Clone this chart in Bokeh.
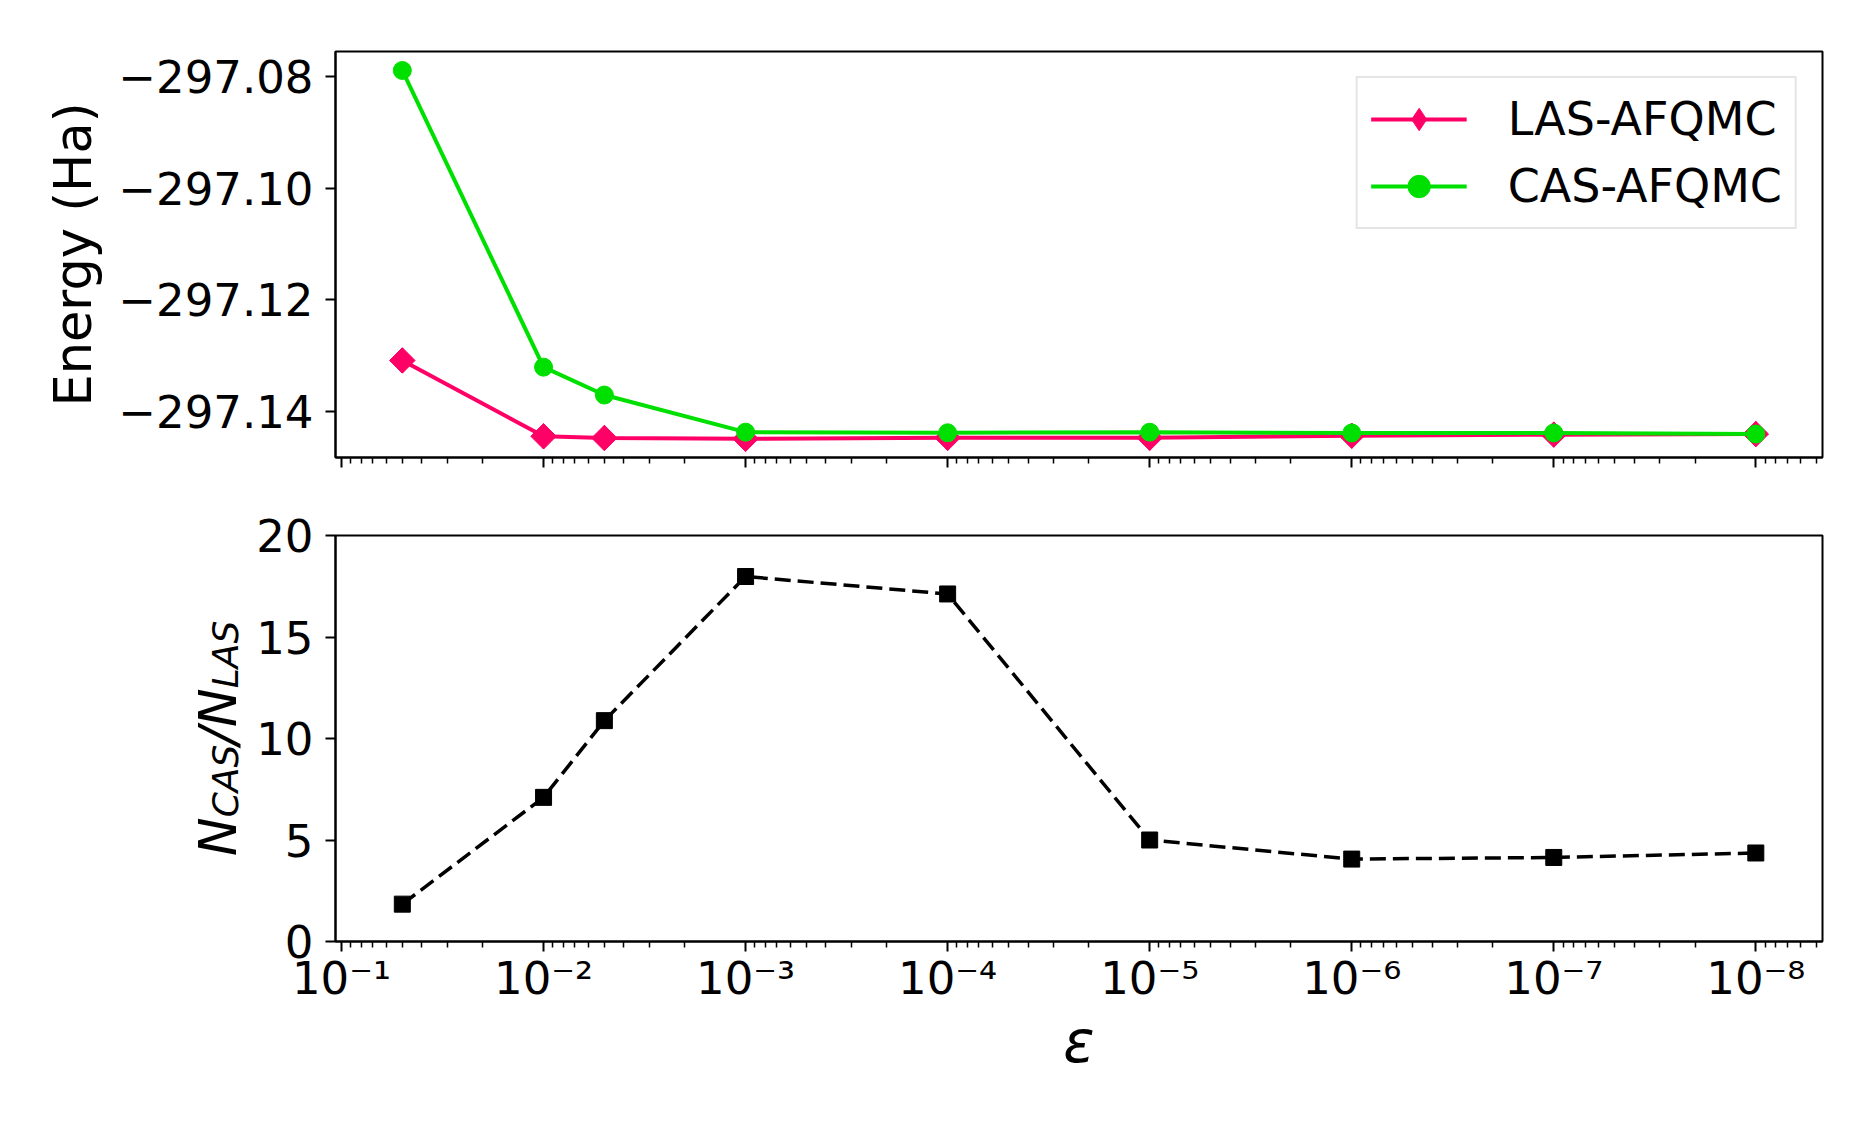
from math import pi
from bokeh.plotting import figure
from bokeh.layouts import column, row
from bokeh.models import (Range1d, FixedTicker, CustomJSTickFormatter, Legend,
                          LegendItem)
from bokeh.core.properties import value
from bokeh.embed import file_html
from bokeh.resources import INLINE

# ---------------- data ----------------
eps = [5e-2, 1e-2, 5e-3, 1e-3, 1e-4, 1e-5, 1e-6, 1e-7, 1e-8]
e_las = [-297.1309, -297.1445, -297.1448, -297.14495, -297.14477,
         -297.14477, -297.1444, -297.1442, -297.1441]
e_cas = [-297.0789, -297.1321, -297.1371, -297.14376, -297.14387,
         -297.14376, -297.1439, -297.1439, -297.1441]
ratio = [1.84, 7.10, 10.88, 17.98, 17.12, 5.00, 4.06, 4.14, 4.36]

energy_ticks = [-297.14, -297.12, -297.10, -297.08]
ratio_ticks = [0, 5, 10, 15, 20]
decade_ticks = [1e-1, 1e-2, 1e-3, 1e-4, 1e-5, 1e-6, 1e-7, 1e-8]
minor_ticks = [m * 10.0 ** e for e in range(-9, -1) for m in range(2, 10)]

series_names = ["LAS-AFQMC", "CAS-AFQMC"]
ylabel_pieces = ["N", "CAS", "/", "N", "LAS"]

PINK = "#ff0066"
GREEN = "#00e000"
FONT = "DejaVu Sans"

X_START, X_END = 10 ** -0.9703, 10 ** -8.33

# layout geometry (pixels)
FRAME_LEFT = 335
FRAME_W = 1487
RIGHT = 37
TOTAL_W = FRAME_LEFT + FRAME_W + RIGHT
TOP1, FRAME_H, BOT1 = 51, 406, 39
H1 = TOP1 + FRAME_H + BOT1
TOP2, BOT2 = 39, 165
H2 = TOP2 + FRAME_H + BOT2
LAB_W = 246

x_fmt = CustomJSTickFormatter(code="""
const e = Math.round(Math.log10(tick));
const sup = {'-':'\\u207b','0':'\\u2070','1':'\\u00b9','2':'\\u00b2','3':'\\u00b3',
             '4':'\\u2074','5':'\\u2075','6':'\\u2076','7':'\\u2077','8':'\\u2078','9':'\\u2079'};
return '10' + String(e).split('').map(c => sup[c]).join('');
""")
blank_fmt = CustomJSTickFormatter(code="return '';")
e_fmt = CustomJSTickFormatter(code="""
return (tick < 0 ? '\\u2212' : '') + Math.abs(tick).toFixed(2);
""")


def style(p):
    p.outline_line_color = "black"
    p.outline_line_width = 2
    p.xgrid.visible = False
    p.ygrid.visible = False
    p.background_fill_color = "white"
    p.border_fill_color = "white"
    for ax in p.axis:
        ax.axis_line_width = 2
        ax.axis_line_color = "black"
        ax.major_tick_line_width = 2
        ax.major_tick_line_color = "black"
        ax.major_tick_out = 10
        ax.major_tick_in = 0
        ax.minor_tick_out = 6
        ax.minor_tick_in = 0
        ax.minor_tick_line_width = 1.5
        ax.minor_tick_line_color = "black"
        ax.major_label_text_font = FONT
        ax.major_label_text_font_size = "45px"
        ax.major_label_text_color = "black"
        ax.major_label_standoff = 12
        ax.axis_label_text_font = FONT
        ax.axis_label_text_font_style = "normal"
        ax.axis_label_text_color = "black"
    p.yaxis.minor_tick_line_color = None
    p.xaxis.ticker = FixedTicker(ticks=decade_ticks, minor_ticks=minor_ticks)


# ---------------- top panel ----------------
p1 = figure(width=TOTAL_W, height=H1, x_axis_type="log",
            x_range=Range1d(X_START, X_END),
            y_range=Range1d(-297.1483, -297.0755),
            min_border_left=FRAME_LEFT, min_border_right=RIGHT,
            min_border_top=TOP1, min_border_bottom=BOT1,
            toolbar_location=None, output_backend="svg")
style(p1)
p1.xaxis.formatter = blank_fmt
p1.yaxis.ticker = FixedTicker(ticks=energy_ticks, minor_ticks=[])
p1.yaxis.formatter = e_fmt
p1.yaxis.axis_label = "Energy (Ha)"
p1.yaxis.axis_label_text_font_size = "51px"
p1.yaxis.axis_label_standoff = 12

l_las = p1.line(eps, e_las, color=PINK, line_width=4)
s_las = p1.scatter(eps, e_las, marker="square", angle=pi / 4, size=18,
                   color=PINK)
# diamond glyph used as the legend symbol (drawn within the rotated squares)
d_las = p1.scatter(eps, e_las, marker="diamond", size=25, color=PINK)
l_cas = p1.line(eps, e_cas, color=GREEN, line_width=4)
s_cas = p1.scatter(eps, e_cas, marker="circle", size=18, color=GREEN)

legend = Legend(items=[
    LegendItem(label=series_names[0], renderers=[l_las, d_las]),
    LegendItem(label=series_names[1], renderers=[l_cas, s_cas]),
], location="top_right")
legend.label_text_font = FONT
legend.label_text_font_size = "46px"
legend.label_text_color = "black"
legend.glyph_width = 96
legend.glyph_height = 56
legend.label_standoff = 41
legend.padding = 13
legend.spacing = 11
legend.margin = 25
legend.border_line_color = "#cccccc"
legend.border_line_width = 2
legend.background_fill_color = "white"
legend.background_fill_alpha = 1.0
p1.add_layout(legend)

# ---------------- bottom panel ----------------
p2 = figure(width=TOTAL_W - LAB_W, height=H2, x_axis_type="log",
            x_range=p1.x_range,
            y_range=Range1d(0, 20),
            min_border_left=FRAME_LEFT - LAB_W, min_border_right=RIGHT,
            min_border_top=TOP2, min_border_bottom=BOT2,
            toolbar_location=None, output_backend="svg")
style(p2)
p2.xaxis.formatter = x_fmt
p2.xaxis.major_label_standoff = 0
p2.yaxis.ticker = FixedTicker(ticks=ratio_ticks, minor_ticks=[])
p2.xaxis.axis_label = "\u03b5"
p2.xaxis.axis_label_text_font_size = "58px"
p2.xaxis.axis_label_text_font_style = "italic"
p2.xaxis.axis_label_standoff = 0

p2.line(eps, ratio, color="black", line_width=3.5, line_dash="16 7")
p2.scatter(eps, ratio, marker="square", size=16, color="black")

# ---------------- y label  N_CAS / N_LAS  (italic, with subscripts) -------
# a narrow panel whose frame has the same vertical extent as the bottom plot;
# its coordinates are pixels measured inside that frame.
lab = figure(width=LAB_W, height=H2, x_range=Range1d(0, LAB_W),
             y_range=Range1d(0, FRAME_H),
             min_border_left=0, min_border_right=0,
             min_border_top=TOP2, min_border_bottom=BOT2,
             x_axis_location=None, y_axis_location=None,
             toolbar_location=None, output_backend="svg")
lab.outline_line_color = None
lab.grid.visible = False
lab.background_fill_color = "white"
lab.border_fill_color = "white"

base_x = FRAME_LEFT - 118           # anchor of the large letters
sub_shift = 8                        # subscript drop
center_y = FRAME_H / 2
big, small = 52, 36
widths = [0.748 * big, 2.017 * small, 0.337 * big, 0.748 * big, 1.876 * small]
sizes = [big, small, big, big, small]
subs = [False, True, False, False, True]
start = center_y - sum(widths) / 2
xs, ys, fs = [], [], []
for w, s, sb in zip(widths, sizes, subs):
    xs.append(base_x + (sub_shift if sb else 0))
    ys.append(start)
    fs.append(f"{s}px")
    start += w
lab.text(x=xs, y=ys, text=ylabel_pieces, angle=pi / 2, text_align="left",
         text_baseline="alphabetic", text_font=value(FONT),
         text_font_size=fs, text_font_style="italic", text_color="black")

layout = column(p1, row(lab, p2, spacing=0), spacing=0)
open("out.html", "w").write(file_html(layout, INLINE))
